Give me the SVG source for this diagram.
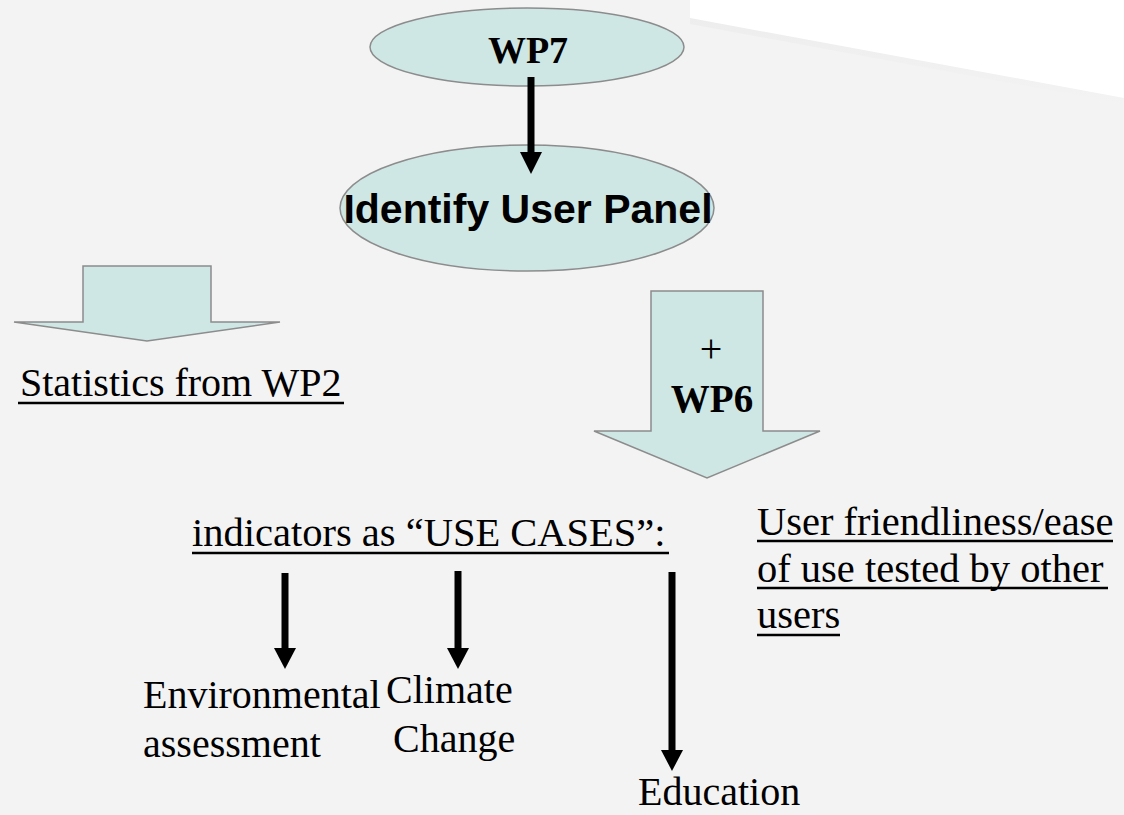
<svg xmlns="http://www.w3.org/2000/svg" width="1124" height="815" viewBox="0 0 1124 815">
<defs>
<linearGradient id="shade" x1="0" y1="0" x2="0" y2="1">
<stop offset="0" stop-color="#ececec"/>
<stop offset="1" stop-color="#f3f3f3"/>
</linearGradient>
</defs>
<style>
.shape{fill:#cfe7e4;stroke:#8c8c8c;stroke-width:1.5}
.serif{font-family:"Liberation Serif","Times New Roman",serif;fill:#000}
.sans{font-family:"Liberation Sans",Arial,sans-serif;fill:#000}
.conn{stroke:#000;stroke-width:7;fill:none}
.head{fill:#000}
.ul{stroke:#000;stroke-width:2.5}
</style>
<rect x="0" y="0" width="1124" height="815" fill="#f3f3f3"/>
<polygon points="690,0 1124,0 1124,104 690,24" fill="url(#shade)"/>
<polygon points="690,0 1124,0 1124,98 690,18" fill="#ffffff"/>

<g id="wp7">
<ellipse class="shape" cx="527" cy="47" rx="157" ry="39"/>
<text class="serif" x="528" y="63" font-size="38" font-weight="bold" text-anchor="middle">WP7</text>
</g>

<g id="identify">
<ellipse class="shape" cx="527" cy="208" rx="187" ry="63"/>
<text class="sans" x="528" y="223" font-size="41" font-weight="bold" text-anchor="middle">Identify User Panel</text>
</g>

<g id="stats-arrow">
<polygon class="shape" points="83,266 211,266 211,322 280,322 147,341 14,322 83,322"/>
</g>

<g id="stats">
<text class="serif" x="20" y="396" font-size="40">Statistics from WP2</text>
<line class="ul" x1="18" y1="403" x2="344" y2="403"/>
</g>

<g id="wp6-arrow">
<polygon class="shape" points="651,291 763,291 763,431 820,431 707,478 594,431 651,431"/>
<text class="serif" x="711" y="362" font-size="40" text-anchor="middle">+</text>
<text class="serif" x="712" y="412" font-size="39" font-weight="bold" text-anchor="middle">WP6</text>
</g>

<g id="usecases">
<text class="serif" x="192" y="546" font-size="40.5">indicators as “USE CASES”:</text>
<line class="ul" x1="192" y1="553" x2="669" y2="553"/>
</g>

<g id="friendliness">
<text class="serif" x="757" y="535" font-size="40.5">User friendliness/ease</text>
<line class="ul" x1="757" y1="541" x2="1113" y2="541"/>
<text class="serif" x="757" y="582" font-size="40.5">of use tested by other</text>
<line class="ul" x1="757" y1="588" x2="1108" y2="588"/>
<text class="serif" x="757" y="628" font-size="40.5">users</text>
<line class="ul" x1="757" y1="635" x2="840" y2="635"/>
</g>

<g id="environmental">
<text class="serif" x="143" y="708" font-size="40">Environmental</text>
<text class="serif" x="143" y="757" font-size="40">assessment</text>
</g>

<g id="climate">
<text class="serif" x="386" y="703" font-size="40">Climate</text>
<text class="serif" x="393" y="752" font-size="40">Change</text>
</g>

<g id="education">
<text class="serif" x="638" y="805" font-size="40">Education</text>
</g>

<g id="connectors">
<line class="conn" x1="531" y1="77" x2="531" y2="154"/>
<polygon class="head" points="520,152 542,152 531,174"/>
<line class="conn" x1="285" y1="573" x2="285" y2="650"/>
<polygon class="head" points="274,648 296,648 285,669"/>
<line class="conn" x1="458" y1="571" x2="458" y2="650"/>
<polygon class="head" points="447,648 469,648 458,669"/>
<line class="conn" x1="672" y1="572" x2="672" y2="752"/>
<polygon class="head" points="661,750 683,750 672,771"/>
</g>
</svg>
